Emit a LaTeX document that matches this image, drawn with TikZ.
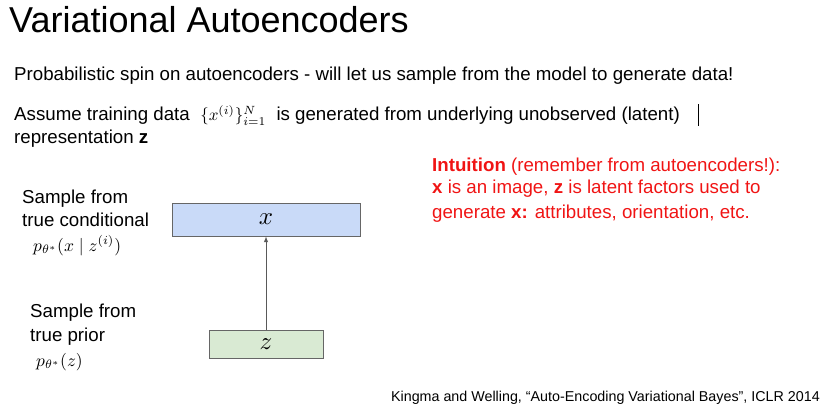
\documentclass[tikz,border=0pt]{standalone}
\usepackage{graphicx}
\usepackage{fontspec}
\setmainfont{Liberation Sans}
\begin{document}
\begin{tikzpicture}[x=1pt,y=-1pt,
  txt/.style={anchor=base west,inner sep=0pt,font=\fontsize{18.7}{22}\selectfont},
  red/.style={txt,text={rgb,255:red,240;green,20;blue,20}},
  box/.style={draw=gray!80!black,line width=0.8pt,inner sep=0pt}]
\useasboundingbox (0,0) rectangle (833,412);
\node[anchor=base west,inner sep=0pt,font=\fontsize{36}{40}\selectfont] (title) at (9,33) {Variational Autoencoders};
\node[txt] (l1) at (14,81) {Probabilistic spin on autoencoders - will let us sample from the model to generate data!};
\node[txt] (l2) at (14,121) {Assume training data \ {\normalsize\scalebox{1.7}{$\{x^{(i)}\}_{i=1}^{N}$}} \ is generated from underlying unobserved (latent)};
\draw[line width=0.8pt] (698,104) -- (698,126);
\node[txt] (l3) at (14,143) {representation \textbf{z}};
\node[red] (r1) at (432,171) {\textbf{Intuition} (remember from autoencoders!):};
\node[red] (r2) at (432,193) {\textbf{x} is an image, \textbf{z} is latent factors used to};
\node[red] (r3) at (432,218) {generate \textbf{x:} attributes, orientation, etc.};
\node[box,fill={rgb,255:red,201;green,218;blue,248},minimum width=188pt,minimum height=33pt] (bx) at (266,219.5) {\normalsize\scalebox{2.5}{$x$}};
\node[box,fill={rgb,255:red,217;green,234;blue,211},minimum width=114pt,minimum height=28pt] (bz) at (266,344) {\normalsize\scalebox{2.5}{$z$}};
\draw[-latex,gray!70!black,line width=1pt] (bz) -- (bx);
\node[txt] (c1) at (22,203) {Sample from};
\node[txt] (c2) at (22,226) {true conditional};
\node[anchor=base west,inner sep=0pt] (c3) at (33,251) {\normalsize\scalebox{1.75}{$p_{\theta^*}(x \mid z^{(i)})$}};
\node[txt] (p1) at (30,317) {Sample from};
\node[txt] (p2) at (30,341) {true prior};
\node[anchor=base west,inner sep=0pt] (p3) at (36,366) {\normalsize\scalebox{1.75}{$p_{\theta^*}(z)$}};
\node[anchor=base east,inner sep=0pt,font=\fontsize{14.3}{16}\selectfont] (cite) at (820,401) {Kingma and Welling, “Auto-Encoding Variational Bayes”, ICLR 2014};
\end{tikzpicture}
\end{document}
